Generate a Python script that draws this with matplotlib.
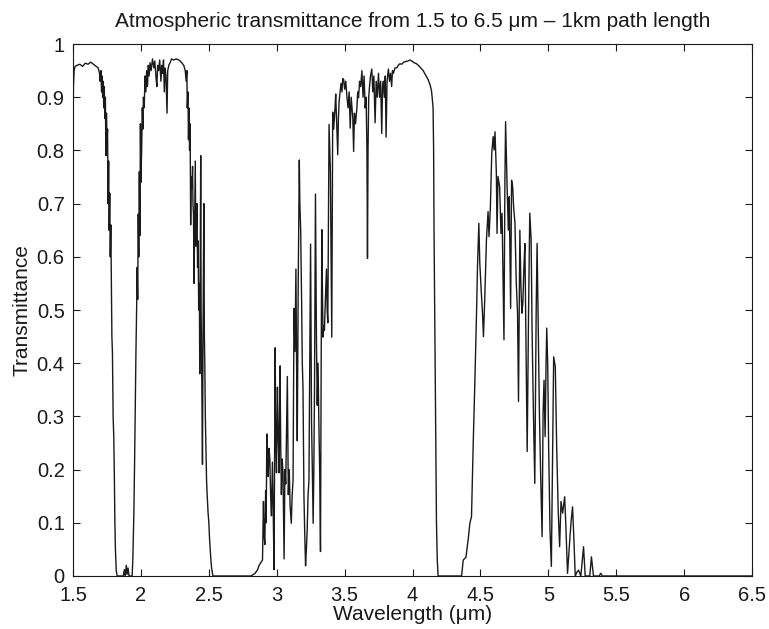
import numpy as np
import matplotlib
matplotlib.use("Agg")
import matplotlib.pyplot as plt

plt.rcParams['font.family'] = ['Liberation Sans', 'DejaVu Sans']

# values (wavelength in um, transmittance 0..1)
# first window, 1.5 - 1.83 um
band1_wl = [1.500, 1.503, 1.508, 1.515, 1.53, 1.55, 1.57, 1.59, 1.61, 1.63, 1.65, 1.67,
            1.685, 1.695, 1.700, 1.705, 1.710, 1.714, 1.718, 1.722, 1.726, 1.730, 1.734,
            1.738, 1.742, 1.746, 1.750, 1.754, 1.758, 1.762, 1.766, 1.770, 1.774, 1.778,
            1.782, 1.786, 1.790, 1.795, 1.800, 1.804, 1.808, 1.812, 1.818, 1.825,
            1.83, 1.87, 1.878, 1.884, 1.892, 1.898, 1.905, 1.912, 1.935]
band1_t = [0.86, 0.92, 0.95, 0.958, 0.96, 0.962, 0.958, 0.964, 0.962, 0.966, 0.962, 0.958,
           0.955, 0.945, 0.93, 0.95, 0.91, 0.94, 0.90, 0.93, 0.88, 0.92, 0.86,
           0.90, 0.79, 0.87, 0.82, 0.84, 0.70, 0.78, 0.65, 0.72, 0.60, 0.66,
           0.55, 0.45, 0.42, 0.30, 0.26, 0.19, 0.10, 0.05, 0.01, 0.0,
           0.0, 0.0, 0.012, 0.0, 0.02, 0.003, 0.015, 0.0, 0.0]

# second window, 1.94 - 2.53 um
band2_wl = [1.940, 1.948, 1.955, 1.963, 1.968, 1.972, 1.976, 1.980, 1.984, 1.988, 1.992,
            1.996, 2.000, 2.005, 2.010, 2.014, 2.018, 2.024, 2.030, 2.036, 2.042, 2.048,
            2.054, 2.060, 2.067, 2.075, 2.085, 2.095, 2.102, 2.110, 2.117, 2.123, 2.130,
            2.138, 2.147, 2.153, 2.159, 2.166, 2.172, 2.178, 2.184, 2.192, 2.197, 2.205,
            2.215, 2.225, 2.24, 2.26, 2.28, 2.30, 2.315, 2.326, 2.333, 2.338, 2.341,
            2.346, 2.350, 2.353, 2.358, 2.362, 2.366, 2.370, 2.376, 2.380, 2.383, 2.387,
            2.391, 2.395, 2.400, 2.404, 2.408, 2.412, 2.417, 2.421, 2.425, 2.430, 2.433,
            2.437, 2.440, 2.443, 2.447, 2.450, 2.453, 2.457, 2.460, 2.463, 2.467, 2.470,
            2.474, 2.478, 2.483, 2.488, 2.494, 2.500, 2.505, 2.510, 2.515, 2.520, 2.530]
band2_t = [0.03, 0.12, 0.25, 0.42, 0.50, 0.58, 0.52, 0.68, 0.60, 0.76, 0.64,
           0.85, 0.74, 0.80, 0.88, 0.84, 0.90, 0.88, 0.94, 0.91, 0.95, 0.92,
           0.96, 0.94, 0.965, 0.95, 0.972, 0.955, 0.968, 0.94, 0.92, 0.96, 0.95,
           0.97, 0.93, 0.96, 0.945, 0.97, 0.91, 0.955, 0.94, 0.87, 0.95, 0.96,
           0.965, 0.972, 0.97, 0.972, 0.97, 0.965, 0.96, 0.95, 0.93, 0.95, 0.88,
           0.91, 0.82, 0.88, 0.80, 0.85, 0.66, 0.75, 0.73, 0.77, 0.70, 0.68,
           0.55, 0.65, 0.78, 0.62, 0.65, 0.70, 0.58, 0.63, 0.50, 0.55, 0.38,
           0.60, 0.79, 0.50, 0.40, 0.30, 0.21, 0.45, 0.58, 0.70, 0.45, 0.40,
           0.30, 0.25, 0.18, 0.15, 0.12, 0.10, 0.07, 0.05, 0.03, 0.015, 0.0]

# third window, 2.81 - 4.19 um
band3_wl = [2.810, 2.840, 2.859, 2.870, 2.885, 2.895, 2.902, 2.906, 2.912, 2.918, 2.922,
            2.927, 2.932, 2.937, 2.943, 2.949, 2.955, 2.961, 2.968, 2.974, 2.980, 2.985,
            2.988, 2.993, 2.998, 3.005, 3.011, 3.017, 3.024, 3.029, 3.034, 3.040, 3.046,
            3.054, 3.060, 3.066, 3.072, 3.078, 3.085, 3.092, 3.098, 3.107, 3.113, 3.120,
            3.127, 3.134, 3.141, 3.146, 3.151, 3.158, 3.166, 3.170, 3.176, 3.183, 3.188,
            3.193, 3.200, 3.206, 3.212, 3.218, 3.224, 3.230, 3.237, 3.243, 3.249, 3.256,
            3.262, 3.268, 3.273, 3.278, 3.285, 3.292, 3.298, 3.304, 3.310, 3.316, 3.322,
            3.327, 3.332, 3.337, 3.341, 3.346, 3.351, 3.358, 3.366, 3.371, 3.376, 3.381,
            3.385, 3.390, 3.395, 3.400, 3.405, 3.412, 3.418, 3.424, 3.429, 3.434, 3.440,
            3.449, 3.454, 3.459, 3.466, 3.473, 3.480, 3.486, 3.493, 3.500, 3.508, 3.517,
            3.525, 3.533, 3.541, 3.548, 3.554, 3.560, 3.566, 3.572, 3.580, 3.590, 3.596,
            3.602, 3.610, 3.618, 3.627, 3.635, 3.643, 3.651, 3.658, 3.664, 3.668, 3.672,
            3.677, 3.683, 3.690, 3.700, 3.707, 3.715, 3.724, 3.732, 3.740, 3.749, 3.757,
            3.765, 3.773, 3.779, 3.785, 3.792, 3.799, 3.805, 3.812, 3.822, 3.830, 3.838,
            3.846, 3.852, 3.859, 3.870, 3.883, 3.895, 3.907, 3.920, 3.935, 3.950, 3.965,
            3.980, 3.995, 4.010, 4.029, 4.050, 4.078, 4.100, 4.115, 4.130, 4.139, 4.146,
            4.151, 4.155, 4.158, 4.163, 4.170, 4.176, 4.182, 4.188]
band3_t = [0.0, 0.005, 0.012, 0.02, 0.026, 0.03, 0.14, 0.08, 0.059, 0.16, 0.10,
           0.267, 0.20, 0.187, 0.24, 0.22, 0.15, 0.113, 0.214, 0.12, 0.012, 0.30,
           0.429, 0.25, 0.194, 0.355, 0.26, 0.194, 0.395, 0.25, 0.153, 0.22, 0.194,
           0.032, 0.20, 0.173, 0.28, 0.375, 0.153, 0.20, 0.133, 0.099, 0.15, 0.18,
           0.503, 0.422, 0.577, 0.40, 0.254, 0.55, 0.782, 0.70, 0.651, 0.516, 0.40,
           0.355, 0.153, 0.08, 0.019, 0.05, 0.086, 0.15, 0.18, 0.40, 0.624, 0.288,
           0.20, 0.099, 0.20, 0.355, 0.718, 0.45, 0.321, 0.40, 0.288, 0.20, 0.046,
           0.40, 0.651, 0.52, 0.449, 0.47, 0.462, 0.52, 0.577, 0.50, 0.476, 0.70,
           0.849, 0.80, 0.758, 0.60, 0.449, 0.872, 0.84, 0.859, 0.88, 0.906, 0.86,
           0.792, 0.86, 0.892, 0.91, 0.926, 0.91, 0.935, 0.933, 0.915, 0.93, 0.90,
           0.88, 0.91, 0.842, 0.90, 0.88, 0.86, 0.798, 0.87, 0.85, 0.88, 0.91,
           0.899, 0.93, 0.92, 0.95, 0.90, 0.94, 0.88, 0.90, 0.80, 0.597, 0.80,
           0.90, 0.92, 0.94, 0.953, 0.91, 0.94, 0.852, 0.93, 0.90, 0.945, 0.90,
           0.93, 0.832, 0.92, 0.93, 0.90, 0.94, 0.825, 0.93, 0.953, 0.93, 0.945,
           0.92, 0.95, 0.945, 0.955, 0.955, 0.96, 0.963, 0.962, 0.966, 0.967, 0.968,
           0.970, 0.968, 0.965, 0.963, 0.958, 0.95, 0.94, 0.933, 0.922, 0.913, 0.895,
           0.879, 0.80, 0.65, 0.50, 0.28, 0.10, 0.03, 0.0]

# fourth window, 4.36 - 5.4 um, then closed to 6.5 um
band4_wl = [4.340, 4.361, 4.373, 4.393, 4.410, 4.422, 4.434, 4.446, 4.459, 4.471, 4.478,
            4.488, 4.495, 4.505, 4.515, 4.522, 4.532, 4.544, 4.556, 4.563, 4.573, 4.583,
            4.593, 4.600, 4.607, 4.617, 4.622, 4.629, 4.641, 4.651, 4.659, 4.666, 4.673,
            4.680, 4.685, 4.695, 4.705, 4.712, 4.722, 4.729, 4.737, 4.744, 4.754, 4.763,
            4.773, 4.780, 4.790, 4.798, 4.805, 4.812, 4.820, 4.827, 4.837, 4.844, 4.854,
            4.863, 4.873, 4.880, 4.890, 4.900, 4.910, 4.917, 4.924, 4.934, 4.944, 4.954,
            4.961, 4.968, 4.976, 4.983, 4.988, 4.995, 5.002, 5.012, 5.022, 5.032, 5.039,
            5.051, 5.061, 5.073, 5.083, 5.093, 5.105, 5.120, 5.129, 5.141, 5.154, 5.166,
            5.178, 5.188, 5.198, 5.212, 5.222, 5.239, 5.259, 5.271, 5.305, 5.317, 5.332,
            5.375, 5.385, 5.398, 6.5]
band4_t = [0.0, 0.0, 0.030, 0.035, 0.07, 0.099, 0.112, 0.243, 0.368, 0.494, 0.581,
           0.663, 0.588, 0.538, 0.494, 0.450, 0.525, 0.632, 0.685, 0.638, 0.694, 0.794,
           0.826, 0.801, 0.835, 0.757, 0.644, 0.751, 0.732, 0.644, 0.682, 0.556, 0.444,
           0.744, 0.854, 0.744, 0.650, 0.713, 0.503, 0.744, 0.732, 0.694, 0.663, 0.556,
           0.494, 0.328, 0.650, 0.544, 0.494, 0.513, 0.581, 0.625, 0.400, 0.234, 0.494,
           0.682, 0.632, 0.462, 0.306, 0.174, 0.494, 0.625, 0.494, 0.306, 0.180, 0.074,
           0.306, 0.368, 0.262, 0.400, 0.466, 0.400, 0.243, 0.086, 0.018, 0.243, 0.412,
           0.393, 0.243, 0.118, 0.055, 0.140, 0.118, 0.149, 0.093, 0.005, 0.055, 0.099,
           0.130, 0.068, 0.0, 0.008, 0.011, 0.0, 0.055, 0.0, 0.0, 0.036, 0.0,
           0.0, 0.005, 0.0, 0.0]

x_ticks = [1.5, 2, 2.5, 3, 3.5, 4, 4.5, 5, 5.5, 6, 6.5]
x_labels = ['1.5', '2', '2.5', '3', '3.5', '4', '4.5', '5', '5.5', '6', '6.5']
y_ticks = [0, 0.1, 0.2, 0.3, 0.4, 0.5, 0.6, 0.7, 0.8, 0.9, 1]
y_labels = ['0', '0.1', '0.2', '0.3', '0.4', '0.5', '0.6', '0.7', '0.8', '0.9', '1']

wl = np.concatenate([band1_wl, band2_wl, band3_wl, band4_wl])
trans = np.concatenate([band1_t, band2_t, band3_t, band4_t])

fig = plt.figure(figsize=(7.69, 6.29), dpi=100)
ax = fig.add_axes([0.095, 0.0843, 0.883, 0.8457])

ax.plot(wl, trans, color='#1a1a1a', linewidth=1.0)

ax.set_xlim(1.5, 6.5)
ax.set_ylim(0, 1)
ax.set_xticks(x_ticks)
ax.set_xticklabels(x_labels)
ax.set_yticks(y_ticks)
ax.set_yticklabels(y_labels)
ax.tick_params(direction='in', top=True, right=True, length=5, width=0.8,
               labelsize=14.5, colors='#1a1a1a')
ax.tick_params(axis='x', pad=7)
ax.tick_params(axis='y', pad=6)
for s in ax.spines.values():
    s.set_linewidth(0.8)
    s.set_color('#1a1a1a')

ax.set_title('Atmospheric transmittance from 1.5 to 6.5 \u03bcm \u2013 1km path length',
             fontsize=15, pad=12, color='#1a1a1a')
ax.set_xlabel('Wavelength (\u03bcm)', fontsize=15, labelpad=0, color='#1a1a1a')
ax.set_ylabel('Transmittance', fontsize=15, labelpad=4, color='#1a1a1a')

fig.savefig('out.png', dpi=100)
